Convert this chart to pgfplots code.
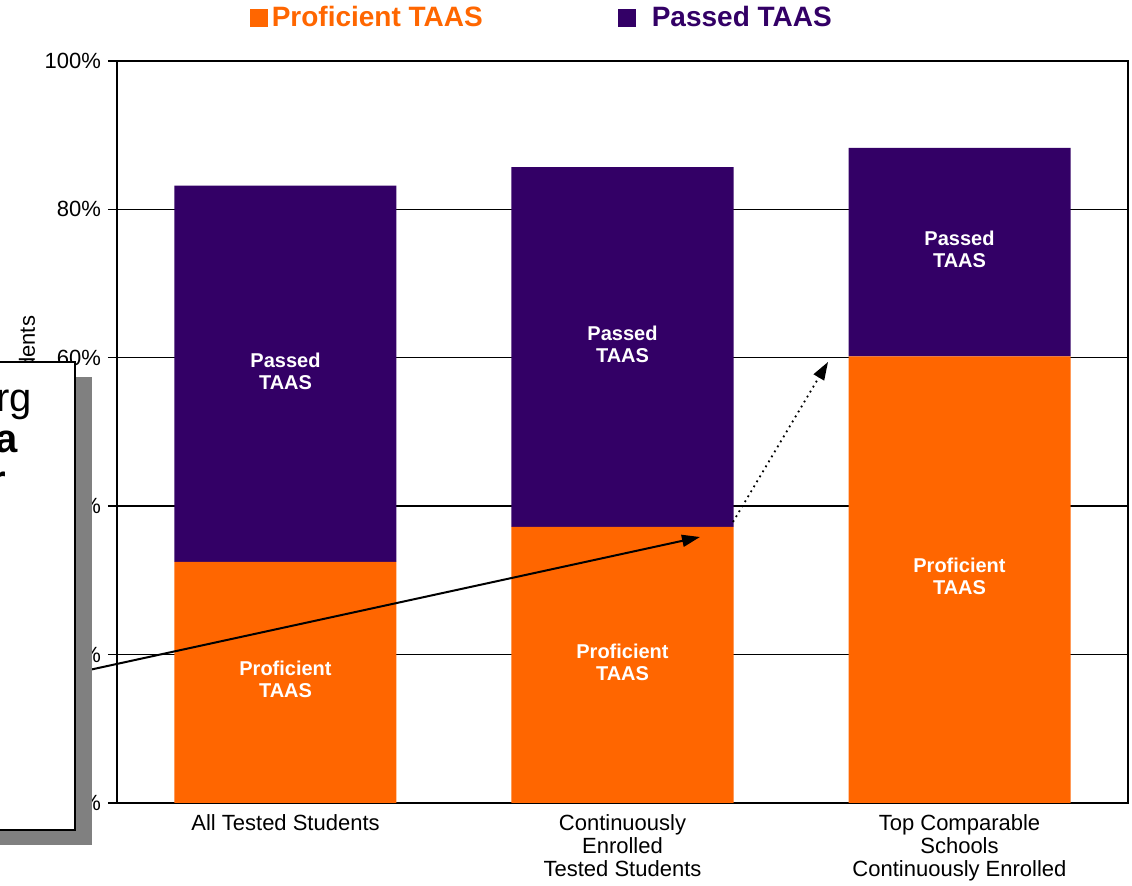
\documentclass[border=0pt]{standalone}
\usepackage{pgfplots}
\pgfplotsset{compat=1.18}
\usepackage{fontspec}
\setmainfont{Liberation Sans}
\usetikzlibrary{arrows.meta}
\definecolor{taasorange}{HTML}{FF6600}
\definecolor{taaspurple}{HTML}{330066}
\definecolor{shadowgray}{HTML}{808080}
\tikzset{barlab/.style={text=white, align=center, font=\fontsize{10}{11}\selectfont\bfseries}}
\begin{document}
\begin{tikzpicture}
\useasboundingbox (0pt,0pt) rectangle (566pt,443pt);
\begin{axis}[
  at={(58.5pt,41.5pt)}, anchor=south west,
  scale only axis, width=505.5pt, height=371pt,
  ybar stacked, bar width=111pt,
  xmin=-0.5, xmax=2.5, ymin=0, ymax=100,
  xtick={0,1,2},
  xticklabels={All Tested Students,{Continuously\\Enrolled\\Tested Students},{Top Comparable\\Schools\\Continuously Enrolled}},
  xticklabel style={align=center, font=\fontsize{11}{11.5}\selectfont, yshift=2pt},
  x tick style={draw=none},
  ytick={0,20,40,60,80,100},
  yticklabels={0\%,20\%,40\%,60\%,80\%,100\%},
  yticklabel style={font=\fontsize{11}{12}\selectfont},
  ytick pos=left, tick align=outside, major tick length=4.5pt,
  y tick style={black, line width=0.7pt},
  ymajorgrids, grid style={black, line width=0.7pt},
  axis line style={black, line width=0.8pt},
  ylabel={Percent of Students},
  ylabel style={at={(axis description cs:-0.089,0.666)}, anchor=east, font=\fontsize{11}{12}\selectfont},
  legend style={at={(axis description cs:0.125,1.058)}, anchor=west, draw=none, fill=none,
    legend columns=2, font=\fontsize{14}{15}\selectfont\bfseries},
  legend image code/.code={\fill[#1] (0pt,-4.5pt) rectangle (9pt,4.5pt);},
]
\addplot[fill=taasorange, draw=none] coordinates {(0,32.5) (1,37.2) (2,60.2)};
\addlegendentry{\textcolor{taasorange}{Proficient TAAS}\rule{65.5pt}{0pt}}
\addplot[fill=taaspurple, draw=none] coordinates {(0,50.7) (1,48.5) (2,28.1)};
\addlegendentry{\rule{6pt}{0pt}\textcolor{taaspurple}{Passed TAAS}}
\coordinate (pa0) at (axis cs:0,58.2);
\coordinate (pr0) at (axis cs:0,16.6);
\coordinate (pa1) at (axis cs:1,61.8);
\coordinate (pr1) at (axis cs:1,19.0);
\coordinate (pa2) at (axis cs:2,74.6);
\coordinate (pr2) at (axis cs:2,30.6);
\end{axis}
\node[barlab] at (pa0) {Passed\\TAAS};
\node[barlab] at (pr0) {Proficient\\TAAS};
\node[barlab] at (pa1) {Passed\\TAAS};
\node[barlab] at (pr1) {Proficient\\TAAS};
\node[barlab] at (pa2) {Passed\\TAAS};
\node[barlab] at (pr2) {Proficient\\TAAS};
% arrows
\draw[black, line width=1pt, -{Triangle[length=9pt,width=6pt]}] (40pt,107pt) -- (350pt,174.5pt);
\draw[black, line width=0.9pt, dotted, -{Triangle[length=9pt,width=6pt]}] (366.5pt,182pt) -- (414pt,262pt);
% overlay box
\fill[shadowgray] (-5pt,20.5pt) rectangle (46pt,254.5pt);
\filldraw[fill=white, draw=black, line width=1.2pt] (-5pt,28pt) rectangle (37.5pt,262pt);
\node[anchor=base east, inner sep=0pt, font=\fontsize{20}{20}\selectfont] at (16pt,237pt) {rg};
\node[anchor=base east, inner sep=0pt, font=\fontsize{20}{20}\selectfont\bfseries] at (9pt,216.5pt) {a};
\node[anchor=base east, inner sep=0pt, font=\fontsize{20}{20}\selectfont\bfseries] at (3pt,196pt) {r};
\end{tikzpicture}
\end{document}
